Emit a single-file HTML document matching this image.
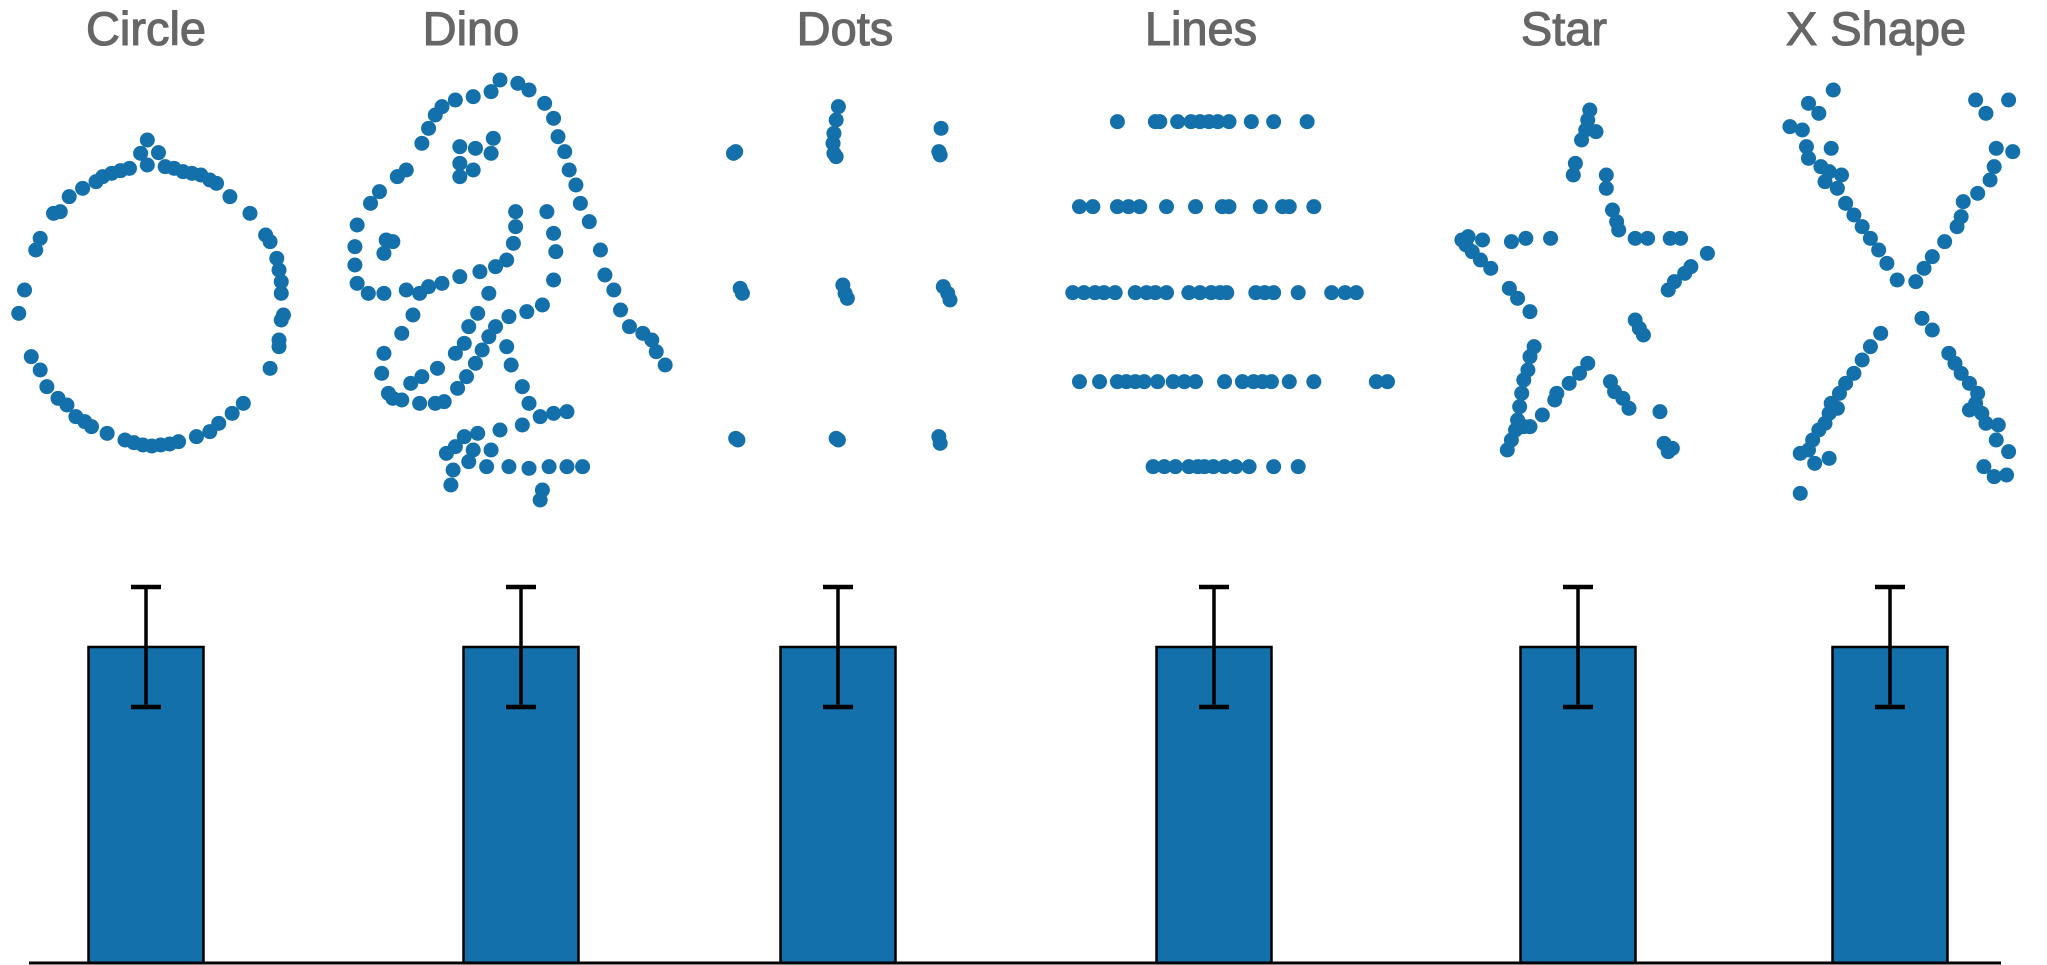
<!DOCTYPE html>
<html><head><meta charset="utf-8"><style>
html,body{margin:0;padding:0;background:#fff;}
svg{display:block;}
.title{font-family:"Liberation Sans",sans-serif;font-size:47px;fill:#666;stroke:#666;stroke-width:1.1px;text-anchor:middle;}
</style></head>
<body>
<svg id="chart" width="2047" height="965" viewBox="0 0 2047 965"></svg>
<script>
// ---- data ----
const categories = ["Circle","Dino","Dots","Lines","Star","X Shape"];
const barMeans = [54.26,54.26,54.26,54.26,54.26,54.26];
const barErrors = [10.3,10.3,10.3,10.3,10.3,10.3];
const circlePts = [[330,420],[315,460],[355,458],[135,635],[155,590],[185,565],[215,545],[250,520],[290,505],[330,495],[370,500],[410,515],[450,525],[485,550],[515,590],[560,640],[595,705],[605,725],[620,775],[625,810],[630,845],[630,880],[635,945],[630,960],[625,1020],[625,1040],[605,1105],[90,715],[80,750],[55,870],[42,940],[70,1070],[90,1110],[105,1160],[130,1195],[150,1215],[170,1250],[205,1280],[240,1300],[280,1320],[320,1335],[360,1335],[400,1325],[440,1310],[470,1295],[490,1270],[520,1240],[545,1210],[230,530],[270,512],[390,505],[430,520],[300,1328],[340,1338],[380,1332],[190,1265],[120,640],[470,540]];
const dinoPts = [[1120,240],[1160,250],[1185,270],[1100,275],[1060,290],[1020,300],[990,320],[975,345],[960,385],[945,430],[910,510],[890,530],[850,575],[830,610],[800,675],[795,740],[795,795],[800,850],[825,880],[860,880],[910,870],[940,880],[960,860],[990,850],[1030,830],[1075,815],[1110,800],[1135,780],[1220,310],[1240,355],[1250,410],[1265,455],[1275,510],[1290,555],[1300,610],[1320,665],[1345,750],[1355,825],[1375,870],[1390,930],[1410,980],[1440,1000],[1460,1020],[1470,1055],[1490,1095],[1030,440],[1065,445],[1105,415],[1100,460],[1030,490],[1030,530],[1060,510],[865,720],[880,725],[860,760],[1155,635],[1155,680],[1150,730],[1225,635],[1240,700],[1245,755],[1240,840],[1095,880],[1070,940],[1050,980],[1040,1030],[1020,1060],[980,1105],[945,1130],[920,1150],[900,1200],[940,1210],[975,1210],[995,1205],[925,945],[900,1000],[860,1060],[855,1120],[870,1180],[880,1195],[1215,915],[1180,935],[1140,950],[1110,980],[1095,1010],[1080,1050],[1065,1090],[1045,1130],[1025,1165],[1135,1040],[1145,1095],[1170,1160],[1185,1210],[1270,1235],[1240,1240],[1210,1250],[1170,1275],[1120,1290],[1070,1300],[1040,1310],[1020,1340],[1000,1360],[1060,1350],[1100,1350],[1050,1385],[1090,1400],[1140,1400],[1185,1405],[1230,1400],[1270,1400],[1305,1400],[1015,1410],[1010,1455],[1215,1470],[1210,1500]];
const dotsPts = [[75,220],[80,215],[310,80],[305,120],[300,160],[298,190],[300,220],[305,230],[540,145],[535,215],[538,225],[90,625],[95,640],[320,615],[325,640],[330,655],[545,620],[555,640],[560,660],[80,1075],[85,1080],[305,1075],[310,1080],[535,1070],[538,1090]];
const linesRowY = [125,380,638,905,1160];
const linesRowX = [
 [935,1020,1030,1070,1100,1120,1140,1160,1185,1235,1285,1360],
 [850,880,935,960,985,1045,1110,1170,1185,1255,1305,1320,1375],
 [835,860,885,905,930,975,1000,1020,1045,1095,1120,1145,1165,1180,1245,1265,1285,1340,1415,1445,1470],
 [850,895,935,955,975,995,1025,1060,1085,1110,1175,1215,1240,1260,1280,1320,1375,1515,1540],
 [1015,1040,1065,1095,1115,1130,1150,1175,1200,1230,1285,1340]
];
const starPts = [[150,540],[165,530],[160,555],[200,540],[270,545],[305,535],[365,535],[175,575],[195,600],[220,625],[265,685],[285,715],[315,755],[460,150],[455,180],[450,210],[475,215],[440,240],[425,310],[420,345],[500,345],[500,385],[515,450],[525,485],[530,510],[570,535],[600,535],[655,535],[680,535],[745,580],[705,620],[690,640],[665,665],[650,690],[570,780],[580,805],[590,825],[325,860],[315,890],[310,930],[300,960],[295,1000],[290,1040],[285,1080],[280,1110],[270,1140],[260,1170],[300,1100],[315,1100],[345,1065],[375,1020],[380,1000],[410,970],[435,940],[455,910],[510,965],[520,995],[540,1015],[555,1045],[630,1055],[640,1150],[660,1165],[650,1175]];
const xShapePts = [[1050,90],[990,130],[1015,160],[945,200],[975,210],[985,260],[1045,265],[990,295],[1020,320],[1040,335],[1070,345],[1030,365],[1060,385],[1080,430],[1100,465],[1120,500],[1140,535],[1160,570],[1180,610],[1205,660],[1395,120],[1475,120],[1420,160],[1445,265],[1485,275],[1440,320],[1430,360],[1400,400],[1365,425],[1360,470],[1350,500],[1320,545],[1290,590],[1270,625],[1250,665],[1165,820],[1140,860],[1120,900],[1100,940],[1080,970],[1065,1000],[1045,1030],[1040,1060],[1030,1090],[1015,1110],[1000,1140],[990,1170],[970,1180],[1005,1210],[1040,1195],[970,1300],[1060,1045],[1265,775],[1290,810],[1330,880],[1345,910],[1360,940],[1380,970],[1400,1000],[1395,1030],[1410,1060],[1420,1090],[1450,1095],[1445,1140],[1475,1175],[1415,1220],[1440,1250],[1470,1245],[1380,1050]];

// ---- layout ----
const titleX = [146,471,845,1201,1564,1876];
const barCenters = [146,521,838,1214,1578,1890];
const NS = "http://www.w3.org/2000/svg";
const svg = document.getElementById("chart");
function mk(tag, attrs){const e=document.createElementNS(NS,tag);for(const k in attrs)e.setAttribute(k,attrs[k]);svg.appendChild(e);return e;}
const BLUE="#1470ab";
const baseY=963, pxPerUnit=5.824;
function yBar(v){return baseY - v*pxPerUnit;}
function panelScale(ox,oy,sx){return {x:v=>ox+v*sx, y:v=>oy+v/3};}

categories.forEach((c,i)=>{
  const t=mk("text",{x:titleX[i],y:45,class:"title"});
  t.textContent=c;
  
  
});

function drawPts(pts, sc, name){
  const g=mk("g",{});
  
  
  pts.forEach(p=>{
    const c=document.createElementNS(NS,"circle");
    c.setAttribute("cx",sc.x(p[0]));c.setAttribute("cy",sc.y(p[1]));c.setAttribute("r",7.5);c.setAttribute("fill",BLUE);
    
    
    g.appendChild(c);
  });
}
const s1=panelScale(0,0,700/1568);
drawPts(circlePts,s1,"circle-scatter");
drawPts(dinoPts,s1,"dino-scatter");
const s3=panelScale(700,80,700/1568);
drawPts(dotsPts,s3,"dots-scatter");
const linePts=[];
linesRowX.forEach((row,r)=>row.forEach(x=>linePts.push([x,linesRowY[r]])));
drawPts(linePts,s3,"lines-scatter");
const s4=panelScale(1400,60,647/1568);
drawPts(starPts,s4,"star-scatter");
drawPts(xShapePts,s4,"x-shape-scatter");

// bars
const barW=115;
barMeans.forEach((m,i)=>{
  const cx=barCenters[i], top=yBar(m);
  const b=mk("rect",{x:cx-barW/2,y:top,width:barW,height:baseY-top,fill:"#1370ab",stroke:"#000","stroke-width":2.5});
  
  
  const hi=yBar(m+barErrors[i]), lo=yBar(m-barErrors[i]);
  const g=mk("g",{stroke:"#000","stroke-width":3.5});
  
  
  [[cx,hi,cx,lo],[cx-15,hi,cx+15,hi],[cx-15,lo,cx+15,lo]].forEach(l=>{
    const e=document.createElementNS(NS,"line");
    e.setAttribute("x1",l[0]);e.setAttribute("y1",l[1]);e.setAttribute("x2",l[2]);e.setAttribute("y2",l[3]);
    g.appendChild(e);
  });
  g.lastChild.setAttribute("stroke-width",4.5);
  g.children[1].setAttribute("stroke-width",4.5);
});
const ax=mk("line",{x1:29,y1:963,x2:2001,y2:963,stroke:"#000","stroke-width":3});


</script>
</body></html>
